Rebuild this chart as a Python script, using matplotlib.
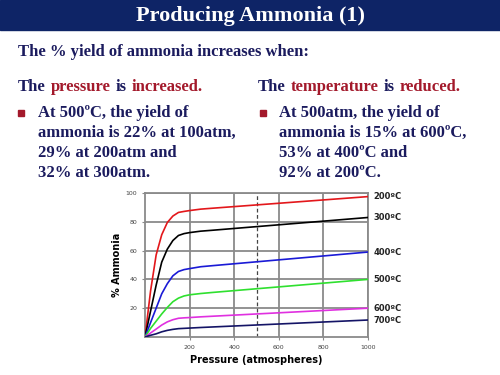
import matplotlib
matplotlib.use('Agg')
import matplotlib.pyplot as plt

# slide text
title = 'Producing Ammonia (1)'
intro = 'The % yield of ammonia increases when:'
left_head = [('The', 'navy'), ('pressure', 'red'), ('is', 'navy'), ('increased.', 'red')]
right_head = [('The', 'navy'), ('temperature', 'red'), ('is', 'navy'), ('reduced.', 'red')]
left_bullet = ['At 500\u00baC, the yield of', 'ammonia is 22% at 100atm,',
               '29% at 200atm and', '32% at 300atm.']
right_bullet = ['At 500atm, the yield of', 'ammonia is 15% at 600\u00baC,',
                '53% at 400\u00baC and', '92% at 200\u00baC.']

# chart data
pressure = [0, 25, 50, 75, 100, 125, 150, 175, 200, 250, 300, 1000]
temps = ['200\u00baC', '300\u00baC', '400\u00baC', '500\u00baC', '600\u00baC', '700\u00baC']
y200 = [0, 32, 57, 71, 79.5, 84, 86.5, 87.2, 87.8, 88.8, 89.4, 97.5]
y300 = [0, 18, 36, 52, 61, 67, 70.5, 71.8, 72.5, 73.5, 74.1, 83]
y400 = [0, 10, 20, 30, 37, 42.5, 45.5, 46.8, 47.5, 48.8, 49.5, 59]
y500 = [0, 6, 11, 16, 20.5, 24.5, 27, 28.5, 29.3, 30.2, 30.9, 40]
y600 = [0, 2.8, 5.5, 8.3, 10.5, 12, 13, 13.3, 13.5, 14, 14.4, 20]
y700 = [0, 1.2, 2.2, 3.6, 4.6, 5.3, 5.8, 6.0, 6.2, 6.6, 6.95, 11.8]
series = [y200, y300, y400, y500, y600, y700]
line_colors = ['#e3171b', '#000000', '#1a1ad6', '#2fe02f', '#e030e0', '#141466']

NAVY = '#1b1b5e'
RED = '#a3192b'
cmap = {'navy': NAVY, 'red': RED}
serif = 'Liberation Serif'
FS = 12

fig = plt.figure(figsize=(5, 3.75), dpi=100)
bg = fig.add_axes([0, 0, 1, 1])
bg.set_xlim(0, 500)
bg.set_ylim(375, 0)
bg.axis('off')

# title banner
bg.add_patch(plt.Rectangle((0, 0), 500, 30, color='#0e2466', zorder=0))
bg.text(250, 16, title, ha='center', va='center', color='white',
        fontsize=16, fontweight='bold', family=serif)

bg.text(18, 52, intro, ha='left', va='center', color=NAVY,
        fontsize=FS, fontweight='bold', family=serif)


def head_line(x, y, parts):
    prev = bg.text(x, y, parts[0][0], ha='left', va='center', color=cmap[parts[0][1]],
                   fontsize=FS, fontweight='bold', family=serif)
    for word, c in parts[1:]:
        prev = bg.annotate(word, xy=(1, 0), xycoords=prev, xytext=(3.5, 0),
                           textcoords='offset points', ha='left', va='bottom',
                           color=cmap[c], fontsize=FS, fontweight='bold', family=serif)


head_line(18, 87, left_head)
head_line(258, 87, right_head)


def bullet(xb, xt, lines):
    bg.add_patch(plt.Rectangle((xb - 3, 110), 6, 6, color=RED))
    for i, ln in enumerate(lines):
        bg.text(xt, 113 + i * 20, ln, ha='left', va='center', color=NAVY,
                fontsize=FS, fontweight='bold', family=serif)


bullet(21, 38, left_bullet)
bullet(263, 279, right_bullet)

# chart
ax = fig.add_axes([145 / 500, 1 - 337 / 375, 223 / 500, 144 / 375])
for ys, c in zip(series, line_colors):
    ax.plot(pressure, ys, color=c, lw=1.2, zorder=3)
for ys, t in zip(series, temps):
    ax.annotate(t, xy=(pressure[-1], ys[-1]), xytext=(4, 0), textcoords='offset points',
                ha='left', va='center', fontsize=6, fontweight='bold',
                annotation_clip=False, color='#222222')
ax.axvline(500, color='#444444', lw=0.9, ls=(0, (3, 2)), zorder=2)
ax.set_xlim(0, 1000)
ax.set_ylim(0, 100)
ax.set_xticks([200, 400, 600, 800, 1000])
ax.set_yticks([20, 40, 60, 80, 100])
ax.grid(True, color='#8a8a8a', lw=1.3, zorder=1)
ax.set_axisbelow(True)
for s in ax.spines.values():
    s.set_color('#8a8a8a')
    s.set_linewidth(1.3)
ax.tick_params(labelsize=4.5, labelcolor='#444444', color='#8a8a8a', length=2, width=0.8)
ax.set_ylabel('% Ammonia', fontsize=7, fontweight='bold', labelpad=3)
ax.set_xlabel('Pressure (atmospheres)', fontsize=7, fontweight='bold', labelpad=4)

fig.savefig('out.png', dpi=100)
